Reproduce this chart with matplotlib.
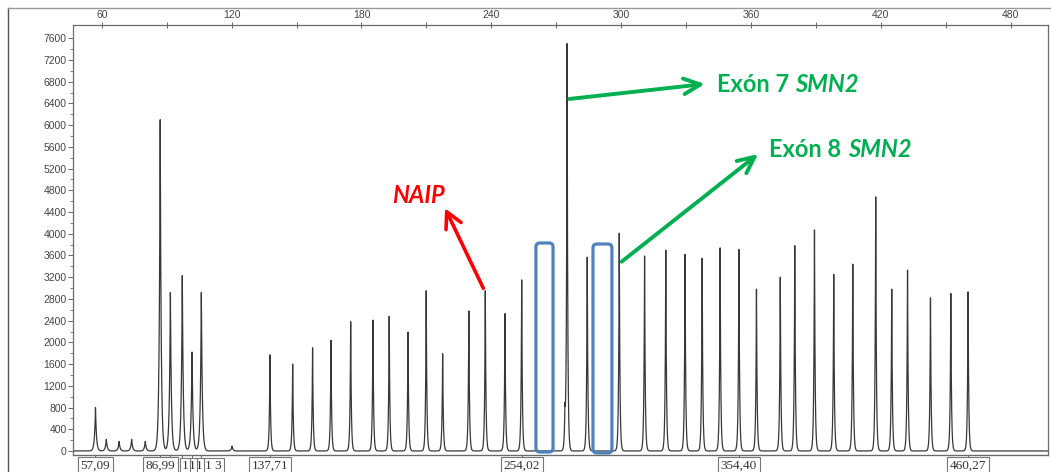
import numpy as np
import matplotlib
matplotlib.use("Agg")
import matplotlib.pyplot as plt
from matplotlib.patches import FancyBboxPatch
from matplotlib.offsetbox import TextArea, HPacker, AnnotationBbox
from matplotlib.lines import Line2D

# ---------------- data ----------------
peak_pos = [57.09, 62.1, 68.0, 73.8, 80.1, 86.99, 91.7, 97.2, 101.7, 106.0, 120.2,
            137.71, 148.2, 157.4, 165.9, 175.0, 185.3, 192.8, 201.5, 209.9, 217.5,
            229.6, 237.2, 246.3, 254.02, 274.0, 275.0, 284.3, 299.1, 310.8, 320.6,
            329.5, 337.4, 345.7, 354.40, 362.5, 373.5, 380.2, 389.3, 398.2, 407.0,
            417.6, 425.0, 432.3, 442.9, 452.3, 460.27]
peak_height = [800, 215, 175, 215, 175, 6100, 2920, 3230, 1820, 2920, 90,
               1770, 1600, 1900, 2040, 2380, 2410, 2480, 2190, 2950, 1790,
               2580, 2950, 2530, 3150, 630, 7480, 3570, 4010, 3590, 3700,
               3620, 3550, 3740, 3710, 2980, 3200, 3780, 4070, 3250, 3440,
               4680, 2980, 3330, 2820, 2900, 2930]

size_labels = ["57,09", "86,99", "137,71", "254,02", "354,40", "460,27"]
size_pos = [57.09, 86.99, 137.71, 254.02, 354.40, 460.27]
fragment_labels = ["1", "1", "1", "1 3"]
fragment_pos = [98.45, 101.68, 104.9, 111.6]
bottom_tick_pos = [57.09, 86.99, 91.7, 97.2, 101.7, 106.0, 137.71, 254.02, 354.40, 460.27]

top_ticks = [60, 120, 180, 240, 300, 360, 420, 480]
top_minor = [90, 150, 210, 270, 330, 390, 450]
y_ticks = list(range(0, 7601, 400))
y_minor = list(range(200, 7601, 400))

GREEN = "#00B050"
RED = "#FF0000"
BLUE = "#4F81BD"
TRACE = "#383838"

# ---------------- figure ----------------
W, H = 1051, 472
fig = plt.figure(figsize=(W / 100, H / 100), dpi=100)
fig.patch.set_facecolor("white")
ax = fig.add_axes([73 / W, 17.5 / H, (1048 - 73) / W, (454.5 - 25) / H])
ax.set_xlim(46.7, 497.2)
ax.set_ylim(-65, 7845)

# trace built from the peaks (grid includes the peak centres so tips are exact)
x = np.union1d(np.linspace(46.7, 497.2, 30000), np.array(peak_pos))
y = np.zeros_like(x)
for p, h in zip(peak_pos, peak_height):
    w = 0.45 if p < 125 else 0.3
    y += h * np.exp(-np.abs(x - p) / w)
ax.plot(x, y, color=TRACE, lw=0.9, zorder=2)

# axes styling
for s in ax.spines.values():
    s.set_color("#6a6a6a")
    s.set_linewidth(0.9)

ax.xaxis.tick_top()
ax.set_xticks(top_ticks)
ax.set_xticks(top_minor, minor=True)
ax.tick_params(axis="x", which="major", direction="inout", length=5, width=0.7,
               colors="#666666", labelsize=7.5, pad=1, labelcolor="#444444")
ax.tick_params(axis="x", which="minor", direction="inout", length=5, width=0.7,
               colors="#666666")
ax.set_yticks(y_ticks)
ax.set_yticks(y_minor, minor=True)
ax.tick_params(axis="y", which="major", direction="out", length=3.5, width=0.7,
               colors="#666666", labelsize=7.5, pad=1, labelcolor="#444444")
ax.tick_params(axis="y", which="minor", direction="out", length=2, width=0.6,
               colors="#666666")
for lab in ax.get_xticklabels() + ax.get_yticklabels():
    lab.set_family("Liberation Sans")

sec = ax.secondary_xaxis("bottom")
sec.set_xticks(bottom_tick_pos)
sec.set_xticklabels([""] * len(bottom_tick_pos))
sec.tick_params(direction="out", length=3.5, width=0.7, colors="#666666")
sec.spines["bottom"].set_color("#6a6a6a")

# boxed size labels below the axis
for i, (lab, pos) in enumerate(reversed(list(zip(fragment_labels, fragment_pos)))):
    ax.annotate(lab, xy=(pos, 0), xycoords=("data", "axes fraction"),
                xytext=(0, -4), textcoords="offset points", ha="center", va="top",
                fontsize=9.5, family="Liberation Serif", color="#333333",
                bbox=dict(boxstyle="square,pad=0.15", fc="white", ec="#777777", lw=0.8),
                annotation_clip=False, zorder=5 + i)
for lab, pos in zip(size_labels, size_pos):
    ax.annotate(lab, xy=(pos, 0), xycoords=("data", "axes fraction"),
                xytext=(0, -4), textcoords="offset points", ha="center", va="top",
                fontsize=9.5, family="Liberation Serif", color="#333333",
                bbox=dict(boxstyle="square,pad=0.2", fc="white", ec="#777777", lw=0.8),
                annotation_clip=False, zorder=20)

# blue rounded boxes
px_x = 975 / 450.5
px_y = 429.5 / 7910
r = 4.0
for (x0, x1, y0, y1) in [(260.6, 268.5, -19, 3830), (286.96, 295.7, -37, 3812)]:
    box = FancyBboxPatch((x0, y0), x1 - x0, y1 - y0,
                         boxstyle=f"round,pad=0,rounding_size={r / px_x}",
                         mutation_aspect=(r / px_y) / (r / px_x),
                         fc="none", ec=BLUE, lw=2.3, zorder=4, clip_on=False)
    ax.add_patch(box)

# annotations
ax.text(206.3, 4696, "NAIP", color=RED, fontsize=17, fontweight="bold",
        fontstyle="italic", family="Lato", ha="center", va="center", zorder=6)
ax.annotate("", xy=(218.6, 4470), xytext=(236.3, 2996),
            arrowprops=dict(arrowstyle="->,head_length=0.57,head_width=0.3",
                            mutation_scale=20, lw=2.6, color=RED,
                            shrinkA=0, shrinkB=0), zorder=6)
ax.annotate("", xy=(338.7, 6759), xytext=(276.0, 6483),
            arrowprops=dict(arrowstyle="->,head_length=0.6,head_width=0.28",
                            mutation_scale=20, lw=2.8, color=GREEN,
                            shrinkA=0, shrinkB=0), zorder=6)
ax.annotate("", xy=(363.3, 5470), xytext=(300.2, 3486),
            arrowprops=dict(arrowstyle="->,head_length=0.6,head_width=0.28",
                            mutation_scale=20, lw=2.8, color=GREEN,
                            shrinkA=0, shrinkB=0), zorder=6)

def exon_label(xd, yd, num):
    t1 = TextArea(f"Exón {num}", textprops=dict(color=GREEN, fontsize=17,
                                                fontweight="bold", family="Lato"))
    t2 = TextArea("SMN2", textprops=dict(color=GREEN, fontsize=17, fontweight="bold",
                                         fontstyle="italic", family="Lato"))
    pack = HPacker(children=[t1, t2], align="baseline", pad=0, sep=4.5)
    ab = AnnotationBbox(pack, (xd, yd), xycoords="data", box_alignment=(0, 0.5),
                        frameon=False, pad=0, zorder=6)
    ax.add_artist(ab)

exon_label(344.1, 6740, 7)
exon_label(368.4, 5543, 8)

# scanned page border
fig.add_artist(Line2D([8 / W, 8 / W], [0, 1 - 8 / H], transform=fig.transFigure,
                      color="#555555", lw=1.0))
fig.add_artist(Line2D([8 / W, 1], [1 - 8 / H, 1 - 8 / H], transform=fig.transFigure,
                      color="#999999", lw=1.0))

fig.savefig("out.png", dpi=100, facecolor="white")
